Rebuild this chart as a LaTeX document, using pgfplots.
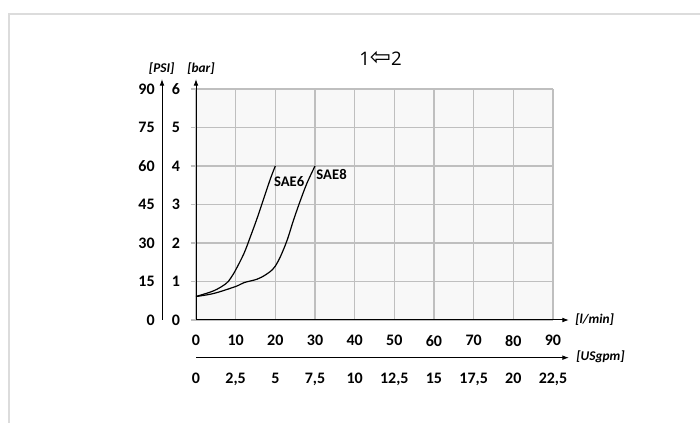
\documentclass[border=0pt]{standalone}
\usepackage{fontspec}
\setmainfont{Carlito}
\newfontfamily\titlefont{Open Sans}
\newfontfamily\arrowfont{DejaVu Sans}
\usepackage{pgfplots}
\pgfplotsset{compat=1.18}
\usetikzlibrary{arrows.meta}
\definecolor{gridgray}{HTML}{BFBFBF}
\definecolor{bggray}{HTML}{F8F8F8}
\definecolor{framegray}{HTML}{DCDCDC}
\newcommand{\tickfont}{\fontsize{12}{14}\selectfont\bfseries}
\newcommand{\unitfont}{\fontsize{10}{12}\selectfont\bfseries\itshape}
\tikzset{myarrow/.style={-{Latex[length=5pt,width=3.6pt]}}}

\begin{document}
\begin{tikzpicture}
\useasboundingbox (0,0) rectangle (525pt,317.25pt);
\fill[white] (0,0) rectangle (525pt,317.25pt);
\draw[framegray, line width=1.6pt] (6.75pt,-2pt) -- (6.75pt,306.75pt) -- (527pt,306.75pt);
\node[font=\titlefont\fontsize{14}{16}\selectfont] at (285.4pt,273.3pt) {1\raisebox{-0.5pt}{\scalebox{1.35}{\arrowfont ⇦}}2};

% main axis (bar vs l/min)
\begin{axis}[
  at={(147pt,77.25pt)}, anchor=south west,
  scale only axis, width=267.75pt, height=173.25pt,
  xmin=0, xmax=90, ymin=0, ymax=6,
  xtick={0,10,...,90}, ytick={0,1,...,6},
  axis lines=left,
  axis line style={line width=0.75pt, myarrow},
  x axis line style={shorten >=-12pt},
  y axis line style={shorten >=-7.5pt},
  axis background/.style={fill=bggray},
  grid=major, grid style={gridgray, line width=0.9pt},
  tick align=outside, major tick length=4pt,
  xtick style={draw=none},
  ytick style={gridgray, line width=0.9pt},
  /pgf/number format/assume math mode=true,
  ticklabel style={font=\tickfont},
  xticklabel style={anchor=north, yshift=-3.8pt},
  yticklabel style={anchor=east, xshift=-4.5pt},
  clip=false,
]
\addplot[black, line width=0.9pt, smooth, tension=0.55] coordinates {
 (0,0.61) (4.5,0.76) (7.5,0.94) (8.7,1.08) (10,1.30) (12.1,1.73) (13.7,2.16)
 (15.4,2.64) (17.1,3.16) (18.8,3.68) (20,4.0)};
\addplot[black, line width=0.9pt, smooth, tension=0.55] coordinates {
 (0,0.61) (4.5,0.69) (10,0.87) (12.1,0.97) (15.4,1.06) (17.5,1.17) (19.2,1.30)
 (20,1.40) (21.3,1.65) (23,2.08) (24.6,2.60) (26.3,3.10) (28,3.56) (30,4.0)};
\node[anchor=west, inner sep=0pt, font=\fontsize{11}{13}\selectfont\bfseries] at (axis cs:19.6,3.6) {SAE6};
\node[anchor=west, inner sep=0pt, font=\fontsize{11}{13}\selectfont\bfseries] at (axis cs:30.3,3.78) {SAE8};
\end{axis}

% PSI axis
\begin{axis}[
  at={(121.5pt,77.25pt)}, anchor=south west,
  scale only axis, width=1pt, height=173.25pt,
  xmin=0, xmax=1, ymin=0, ymax=6,
  axis y line=left, hide x axis,
  ytick={0,1,...,6}, yticklabels={0,15,30,45,60,75,90},
  major tick length=0pt, ytick style={draw=none},
  y axis line style={line width=0.75pt, myarrow, shorten >=-7.5pt},
  yticklabel style={anchor=east, font=\tickfont, xshift=-2pt},
]
\end{axis}

% USgpm axis
\begin{axis}[
  at={(147pt,48.975pt)}, anchor=south west,
  scale only axis, width=267.75pt, height=1pt,
  xmin=0, xmax=90, ymin=0, ymax=1,
  axis x line=bottom, hide y axis,
  xtick={0,10,...,90},
  xticklabels={0,{2,5},5,{7,5},10,{12,5},15,{17,5},20,{22,5}},
  major tick length=0pt, xtick style={draw=none},
  x axis line style={line width=0.75pt, myarrow, shorten >=-12pt},
  xticklabel style={anchor=north, font=\tickfont, yshift=-8.25pt},
]
\end{axis}

\node[font=\unitfont] at (121.3pt,266pt) {[PSI]};
\node[font=\unitfont] at (150.75pt,266pt) {[bar]};
\node[font=\unitfont, anchor=west, inner sep=0pt] at (431.25pt,77.25pt) {[l/min]};
\node[font=\unitfont, anchor=west, inner sep=0pt] at (432pt,49.7pt) {[USgpm]};
\end{tikzpicture}
\end{document}
